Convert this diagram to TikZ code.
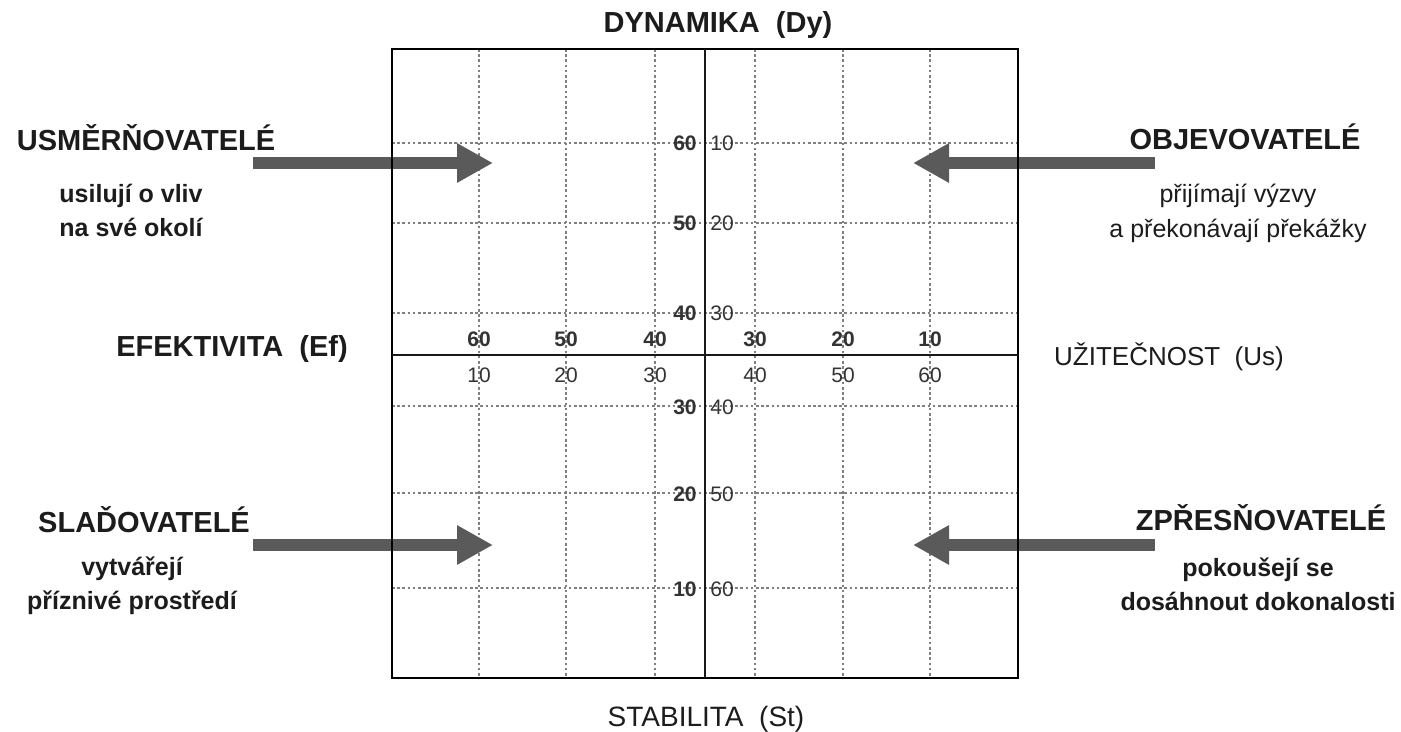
\documentclass[tikz,border=0pt]{standalone}
\usepackage{fontspec}
\setmainfont{Liberation Sans}
\usetikzlibrary{arrows.meta}
\definecolor{arrowgray}{HTML}{5A5A5A}
\definecolor{txt}{HTML}{1C1C1C}
\definecolor{numtxt}{HTML}{333333}
\definecolor{gridgray}{HTML}{808080}
\begin{document}
\begin{tikzpicture}[x=0.5pt,y=-0.5pt,
  gridline/.style={gridgray, line width=0.75pt, dash pattern=on 1.3pt off 1.3pt},
  frame/.style={black, line width=1.4pt},
  axisline/.style={black!90, line width=1.05pt},
  bigarrow/.style={arrowgray, line width=6pt, -{Triangle[width=18.5pt,length=18pt]}},
  txtbase/.style={inner sep=0pt, anchor=base, text=txt},
  axbold/.style={txtbase, font=\fontsize{14.5}{17}\selectfont\bfseries},
  axreg/.style={txtbase, font=\fontsize{14}{17}\selectfont},
  qtitle/.style={txtbase, font=\fontsize{14.5}{17}\selectfont\bfseries},
  qsubbold/.style={txtbase, align=center, font=\fontsize{12.5}{17}\selectfont\bfseries},
  qsubreg/.style={txtbase, align=center, font=\fontsize{12.5}{17.5}\selectfont},
  numbold/.style={inner sep=0pt, text=numtxt, font=\fontsize{10.5}{12}\selectfont\bfseries},
  numreg/.style={inner sep=0pt, text=numtxt, font=\fontsize{10.5}{12}\selectfont}
]
\useasboundingbox (0,0) rectangle (1401,732);
\fill[white] (0,0) rectangle (1401,732);

% dotted grid
\foreach \gx in {479,566,655,755,843,930}
  \draw[gridline] (\gx,49) -- (\gx,678);
\foreach \gy in {143,223,313,406,493,588}
  \draw[gridline] (392,\gy) -- (1018,\gy);

% arrows
\coordinate (usmS) at (253,163);
\coordinate (usmE) at (493,163);
\coordinate (objS) at (1155,163);
\coordinate (objE) at (913,163);
\coordinate (sldS) at (253,545);
\coordinate (sldE) at (493,545);
\coordinate (zprS) at (1155,545);
\coordinate (zprE) at (913,545);
\draw[bigarrow] (usmS) -- (usmE);
\draw[bigarrow] (objS) -- (objE);
\draw[bigarrow] (sldS) -- (sldE);
\draw[bigarrow] (zprS) -- (zprE);

% frame and axes
\draw[frame] (392,49) rectangle (1018,678);
\draw[axisline] (705,49) -- (705,678);
\draw[axisline] (392,355) -- (1018,355);

% axis titles
\node[axbold] (dy) at (718,33) {DYNAMIKA\ \ (Dy)};
\node[axreg] (st) at (706,726) {STABILITA\ \ (St)};
\node[axbold] (ef) at (232,357) {EFEKTIVITA\ \ (Ef)};
\node[axreg, font=\fontsize{13}{17}\selectfont] (us) at (1169,365) {UŽITEČNOST\ \ (Us)};

% quadrant titles
\node[qtitle] (usm) at (146,151) {USMĚRŇOVATELÉ};
\node[qsubbold] (usmT) at (131,237) {usilují o vliv\\na své okolí};
\node[qtitle] (obj) at (1245,150) {OBJEVOVATELÉ};
\node[qsubreg] (objT) at (1238,238) {přijímají výzvy\\a překonávají překážky};
\node[qtitle] (sld) at (144,532) {SLAĎOVATELÉ};
\node[qsubbold] (sldT) at (132,609) {vytvářejí\\příznivé prostředí};
\node[qtitle] (zpr) at (1261,530) {ZPŘESŇOVATELÉ};
\node[qsubbold] (zprT) at (1258,610) {pokoušejí se\\dosáhnout dokonalosti};

% vertical scale labels
\foreach \yy/\lv/\rv [count=\i] in {143/60/10,223/50/20,313/40/30,406/30/40,493/20/50,588/10/60}{
  \node[numbold, anchor=base east] (vl\i) at (697,\yy+8) {\lv};
  \node[numreg, anchor=base west] (vr\i) at (710,\yy+8) {\rv};
}
% horizontal scale labels
\foreach \xx/\tv/\bv [count=\i] in {479/60/10,566/50/20,655/40/30,755/30/40,843/20/50,930/10/60}{
  \node[numbold, anchor=base] (ht\i) at (\xx,347) {\tv};
  \node[numreg, anchor=base] (hb\i) at (\xx,382) {\bv};
}
\end{tikzpicture}
\end{document}
